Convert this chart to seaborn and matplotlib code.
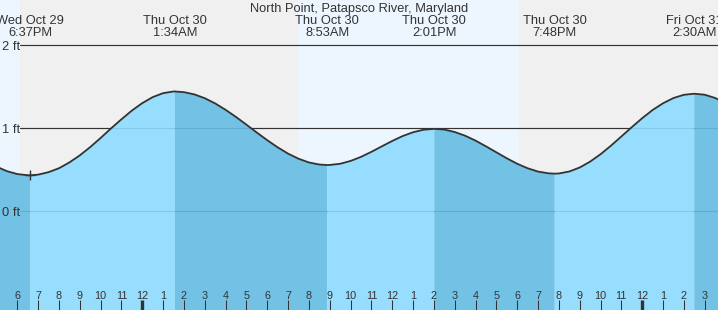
import matplotlib
matplotlib.use("Agg")
import matplotlib.pyplot as plt
import matplotlib.transforms as mtransforms
import numpy as np
import pandas as pd
import seaborn as sns

# ---------------- data ----------------
title = "North Point, Patapsco River, Maryland"

# hours after 6 PM Wed Oct 29, and predicted tide height (ft)
hours = [-1.0, -0.5, 0.0, 0.5, 0.617, 1.0, 1.5, 2.0, 2.5, 3.0, 3.5, 4.0, 4.5,
         5.0, 5.5, 6.0, 6.5, 7.0, 7.5, 7.567, 8.0, 8.5, 9.0, 9.5, 10.0, 10.5,
         11.0, 11.5, 12.0, 12.5, 13.0, 13.5, 14.0, 14.5, 14.883, 15.0, 15.5,
         16.0, 16.5, 17.0, 17.5, 18.0, 18.5, 19.0, 19.5, 20.017, 20.5, 21.0,
         21.5, 22.0, 22.5, 23.0, 23.5, 24.0, 24.5, 25.0, 25.5, 25.8, 26.0,
         26.5, 27.0, 27.5, 28.0, 28.5, 29.0, 29.5, 30.0, 30.5, 31.0, 31.5,
         32.0, 32.5, 33.0, 33.5, 34.0]
height_ft = [0.535, 0.48, 0.445, 0.431, 0.43, 0.438, 0.468, 0.515, 0.585, 0.67,
             0.77, 0.88, 0.995, 1.105, 1.21, 1.30, 1.372, 1.42, 1.44, 1.44,
             1.432, 1.405, 1.359, 1.296, 1.219, 1.133, 1.040, 0.945, 0.853,
             0.767, 0.691, 0.630, 0.585, 0.560, 0.554, 0.555, 0.569, 0.603,
             0.652, 0.713, 0.779, 0.844, 0.903, 0.949, 0.979, 0.99, 0.981,
             0.952, 0.907, 0.848, 0.779, 0.707, 0.635, 0.569, 0.515, 0.475,
             0.454, 0.45, 0.452, 0.476, 0.524, 0.595, 0.684, 0.787, 0.898,
             1.010, 1.118, 1.217, 1.298, 1.361, 1.400, 1.413, 1.401, 1.362,
             1.299]

event_hours = [0.617, 7.567, 14.883, 20.017, 25.8, 32.5]
event_ft = [0.43, 1.44, 0.554, 0.99, 0.45, 1.413]
event_day = ["Wed Oct 29", "Thu Oct 30", "Thu Oct 30", "Thu Oct 30",
             "Thu Oct 30", "Fri Oct 31"]
event_time = ["6:37PM", "1:34AM", "8:53AM", "2:01PM", "7:48PM", "2:30AM"]

# sunset, sunrise, sunset (hours after 6 PM Oct 29)
sun_hours = [0.13, 13.47, 24.08]

tick_hours = list(range(0, 34))
tick_labels = ["6", "7", "8", "9", "10", "11", "12", "1", "2", "3", "4", "5",
               "6", "7", "8", "9", "10", "11", "12", "1", "2", "3", "4", "5",
               "6", "7", "8", "9", "10", "11", "12", "1", "2", "3"]
midnight_hours = [6, 30]

y_levels = [0, 1, 2]
y_labels = ["0 ft", "1 ft", "2 ft"]

# ---------------- style ----------------
W, H = 718, 310
sns.set_style("white")
plt.rcParams["font.family"] = ["Liberation Sans", "DejaVu Sans"]
TXT = "#333333"
DAY = "#EDF6FF"
NIGHT = "#F0F0F0"
RISE = "#8DDBFF"
FALL = "#65BDE4"
ALPHA = 0.9

fig = plt.figure(figsize=(W / 100, H / 100), dpi=100)
ax = fig.add_axes([0, 0, 1, 1])

px_per_h = 20.83
x0_h = -17.3 / px_per_h
ax.set_xlim(x0_h, x0_h + W / px_per_h)
ft_per_px = 1 / 83.0
ax.set_ylim(-(H - 211) * ft_per_px, 211 * ft_per_px)

# day / night background
edges = [-100] + sun_hours + [100]
for i in range(len(edges) - 1):
    ax.axvspan(edges[i], edges[i + 1], color=DAY if i % 2 == 0 else NIGHT,
               lw=0, zorder=0.1)

# horizontal reference lines
for lv in y_levels:
    ax.axhline(lv, xmin=20 / W, xmax=1, color=TXT, lw=0.85, zorder=0.5)

# tide fill: falling (dark) / rising (light) between extremes
df = pd.DataFrame({"hour": hours, "ft": height_ft})
t = df["hour"].to_numpy()
v = df["ft"].to_numpy()
bounds = [-100] + event_hours + [100]
for k in range(len(bounds) - 1):
    m = (t >= bounds[k]) & (t <= bounds[k + 1])
    ax.fill_between(t[m], -5, v[m], color=FALL if k % 2 == 0 else RISE,
                    alpha=ALPHA, lw=0, zorder=1.0)

sns.lineplot(data=df, x="hour", y="ft", ax=ax, color="#333333", lw=1.3,
             estimator=None, sort=False, zorder=3)
ax.plot([event_hours[0]], [event_ft[0]], marker="+", ms=6.5, mew=1.0,
        color="#333333", zorder=3.5)

# texts
top = mtransforms.blended_transform_factory(ax.transData, ax.transAxes)
ax.text(0.5, 1 - 11.7 / H, title, transform=ax.transAxes, ha="center",
        va="baseline", fontsize=9.3, color=TXT)
for eh, d, tm in zip(event_hours, event_day, event_time):
    ax.text(eh, 1 - 24.3 / H, d, transform=top, ha="center", va="baseline",
            fontsize=9.3, color=TXT)
    ax.text(eh, 1 - 36.0 / H, tm, transform=top, ha="center", va="baseline",
            fontsize=9.3, color=TXT)

# y labels
ax.set_yticks(y_levels, y_labels)
ax.tick_params(axis="y", left=False, length=0, pad=-14.2, labelsize=9.3,
               labelcolor=TXT)
for lab in ax.get_yticklabels():
    lab.set_horizontalalignment("right")

# x ticks
ax.set_xticks(tick_hours, tick_labels)
ax.tick_params(axis="x", bottom=True, direction="in", length=7.0, width=0.75,
               pad=-13.4, labelsize=7.8, color=TXT, labelcolor=TXT)
for tk, th in zip(ax.xaxis.get_major_ticks(), tick_hours):
    if th in midnight_hours:
        tk.tick1line.set_markeredgewidth(2.4)

ax.set_axisbelow(False)
ax.xaxis.set_zorder(4)
ax.yaxis.set_zorder(4)

ax.set_xlabel("")
ax.set_ylabel("")
for s in ax.spines.values():
    s.set_visible(False)
if ax.get_legend():
    ax.get_legend().remove()

fig.savefig("out.png", dpi=100)
